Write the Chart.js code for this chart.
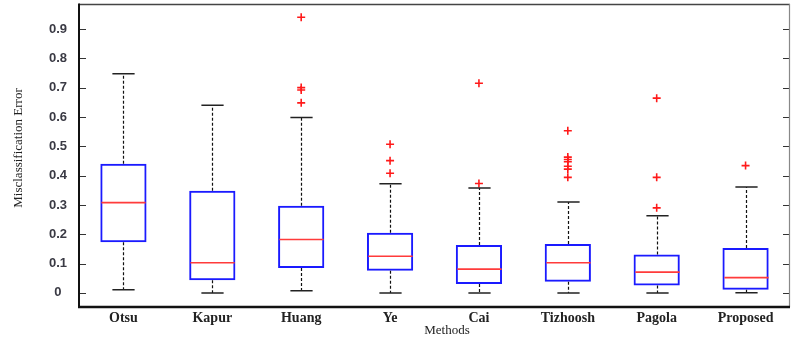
<!DOCTYPE html>
<html>
<head>
<meta charset="utf-8">
<script src="https://cdn.jsdelivr.net/npm/chart.js@4.4.1/dist/chart.umd.min.js"></script>
<style>
html,body{margin:0;padding:0;background:#fff;}
#wrap{width:791px;height:343px;position:relative;}
</style>
</head>
<body>
<div id="wrap"><canvas id="c"></canvas></div>
<script>
const categories = ['Otsu','Kapur','Huang','Ye','Cai','Tizhoosh','Pagola','Proposed'];
const whiskerLow  = [0.011, 0.000, 0.007, 0.000, 0.000, 0.000, 0.000, 0.001];
const q1          = [0.173, 0.043, 0.085, 0.076, 0.030, 0.038, 0.025, 0.011];
const median      = [0.308, 0.103, 0.182, 0.125, 0.081, 0.103, 0.071, 0.052];
const q3          = [0.440, 0.348, 0.297, 0.205, 0.163, 0.167, 0.131, 0.153];
const whiskerHigh = [0.747, 0.640, 0.598, 0.372, 0.358, 0.310, 0.263, 0.361];
const outliers = [
  [],
  [],
  [0.940, 0.700, 0.692, 0.648],
  [0.507, 0.451, 0.408],
  [0.715, 0.373],
  [0.553, 0.463, 0.455, 0.447, 0.432, 0.422, 0.394],
  [0.664, 0.394, 0.290],
  [0.434]
];
const yTicks = [0, 0.1, 0.2, 0.3, 0.4, 0.5, 0.6, 0.7, 0.8, 0.9];
const yMin = -0.048, yMax = 0.985;

const outlierPoints = [];
outliers.forEach((arr, i) => arr.forEach(v => outlierPoints.push({x: categories[i], y: v})));

const boxParts = {
  id: 'boxParts',
  afterDatasetsDraw(chart) {
    const {ctx, scales: {x, y}} = chart;
    const cw = x.width / categories.length;
    ctx.save();
    categories.forEach((c, i) => {
      const cx = Math.round(x.getPixelForValue(i)) + 0.5;
      const half = cw * 0.26;
      const capHalf = cw * 0.125;
      ctx.strokeStyle = '#111';
      ctx.lineWidth = 1.2;
      ctx.setLineDash([3, 2]);
      ctx.beginPath();
      ctx.moveTo(cx, y.getPixelForValue(q3[i]));
      ctx.lineTo(cx, y.getPixelForValue(whiskerHigh[i]));
      ctx.moveTo(cx, y.getPixelForValue(q1[i]));
      ctx.lineTo(cx, y.getPixelForValue(whiskerLow[i]));
      ctx.stroke();
      ctx.setLineDash([]);
      ctx.lineWidth = 1.5;
      ctx.strokeStyle = '#222';
      ctx.beginPath();
      const yh = y.getPixelForValue(whiskerHigh[i]);
      const yl = y.getPixelForValue(whiskerLow[i]);
      ctx.moveTo(cx - capHalf, yh); ctx.lineTo(cx + capHalf, yh);
      ctx.moveTo(cx - capHalf, yl); ctx.lineTo(cx + capHalf, yl);
      ctx.stroke();
      ctx.strokeStyle = '#ff3b3b';
      ctx.lineWidth = 1.6;
      ctx.beginPath();
      const ym = y.getPixelForValue(median[i]);
      ctx.moveTo(cx - half + 1, ym); ctx.lineTo(cx + half - 1, ym);
      ctx.stroke();
    });
    ctx.restore();
  },
  afterDraw(chart) {
    const {ctx, chartArea: a, scales: {y}} = chart;
    ctx.save();
    ctx.strokeStyle = '#333';
    ctx.lineWidth = 1;
    ctx.beginPath();
    yTicks.forEach(v => {
      const py = Math.round(y.getPixelForValue(v)) + 0.5;
      ctx.moveTo(a.left, py); ctx.lineTo(a.left + 7, py);
      ctx.moveTo(a.right - 7, py); ctx.lineTo(a.right, py);
    });
    ctx.stroke();
    ctx.strokeStyle = '#444';
    ctx.lineWidth = 1.5;
    ctx.beginPath(); ctx.moveTo(a.left, a.top + 0.5); ctx.lineTo(a.right, a.top + 0.5); ctx.stroke();
    ctx.strokeStyle = '#888';
    ctx.lineWidth = 1.2;
    ctx.beginPath(); ctx.moveTo(a.right - 0.5, a.top); ctx.lineTo(a.right - 0.5, a.bottom); ctx.stroke();
    ctx.strokeStyle = '#111';
    ctx.lineWidth = 2;
    ctx.beginPath(); ctx.moveTo(a.left, a.top - 0.5); ctx.lineTo(a.left, a.bottom + 1); ctx.stroke();
    ctx.lineWidth = 2.5;
    ctx.beginPath(); ctx.moveTo(a.left - 1, a.bottom); ctx.lineTo(a.right, a.bottom); ctx.stroke();
    ctx.fillStyle = '#222';
    ctx.font = '13px "Liberation Serif", serif';
    ctx.textAlign = 'center';
    ctx.textBaseline = 'middle';
    ctx.fillText('Methods', 447, 331);
    ctx.translate(19, 148);
    ctx.rotate(-Math.PI / 2);
    ctx.fillText('Misclassification Error', 0, 0);
    ctx.restore();
  }
};

new Chart(document.getElementById('c'), {
  type: 'bar',
  data: {
    labels: categories,
    datasets: [
      {
        type: 'bar',
        data: categories.map((c, i) => [q1[i], q3[i]]),
        backgroundColor: 'rgba(255,255,255,0)',
        borderColor: '#1a1aff',
        borderWidth: 2,
        borderSkipped: false,
        categoryPercentage: 1,
        barPercentage: 0.52,
        order: 2
      },
      {
        type: 'scatter',
        data: outlierPoints,
        pointStyle: 'cross',
        radius: 4,
        borderColor: '#ff1a1a',
        backgroundColor: '#ff1a1a',
        borderWidth: 1.6,
        order: 1
      }
    ]
  },
  options: {
    responsive: true,
    maintainAspectRatio: false,
    animation: false,
    layout: {autoPadding: false, padding: {top: 4, right: 1, left: 0, bottom: 0}},
    plugins: {legend: {display: false}, tooltip: {enabled: false}},
    scales: {
      x: {
        type: 'category',
        offset: true,
        grid: {display: false, drawTicks: false},
        border: {display: false},
        ticks: {
          padding: 3,
          color: '#222',
          font: {family: '"Liberation Serif", serif', size: 14, weight: 'bold'},
          maxRotation: 0
        },
        afterFit(s) { s.height = 36; s.paddingLeft = 0; s.paddingRight = 0; }
      },
      y: {
        type: 'linear',
        min: yMin,
        max: yMax,
        grid: {display: false, drawTicks: false},
        border: {display: false},
        afterBuildTicks(s) { s.ticks = yTicks.map(v => ({value: v})); },
        ticks: {
          padding: 12,
          crossAlign: 'center',
          color: '#3a3a44',
          font: {family: '"Liberation Sans", Arial, sans-serif', size: 13, weight: 'bold'},
          callback: (v) => String(Math.round(v * 10) / 10)
        },
        afterFit(s) { s.width = 79; s.paddingTop = 0; s.paddingBottom = 0; }
      }
    }
  },
  plugins: [boxParts]
});
</script>
</body>
</html>
